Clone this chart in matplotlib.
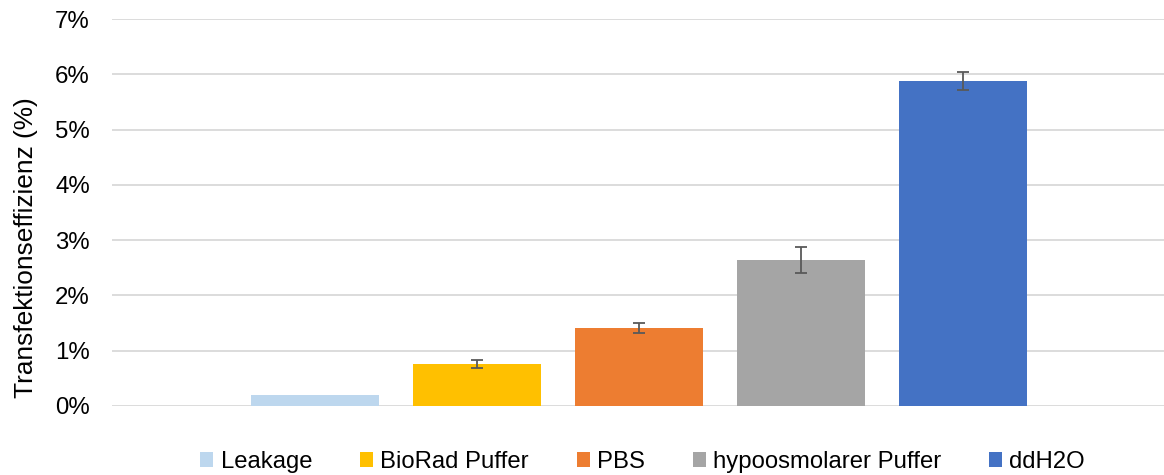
import numpy as np
import matplotlib
matplotlib.use("Agg")
import matplotlib.pyplot as plt
from matplotlib.patches import Patch
from matplotlib.ticker import PercentFormatter

plt.rcParams['font.family'] = ['Liberation Sans', 'DejaVu Sans']

# Daten (Transfektionseffizienz in %)
labels = ['Leakage', 'BioRad Puffer', 'PBS', 'hypoosmolarer Puffer', 'ddH2O']
values = [0.20, 0.76, 1.41, 2.64, 5.88]
errors = [0.0, 0.07, 0.09, 0.24, 0.16]
colors = ['#bdd7ee', '#ffc000', '#ed7d31', '#a5a5a5', '#4472c4']

fig = plt.figure(figsize=(11.64, 4.75), dpi=100)
ax = fig.add_axes([0.0962, 0.1453, 0.9038, 0.8147])

x = np.arange(len(values))
ax.bar(x, values, width=0.79, color=colors, zorder=2)
for xi, v, e in zip(x, values, errors):
    if e > 0:
        ax.errorbar(xi, v, yerr=e, fmt='none', ecolor='#595959',
                    elinewidth=1.3, capsize=4, capthick=1.3, zorder=3)

ax.set_xlim(-1.253, 5.24)
ax.set_ylim(0, 7)
ax.set_yticks(np.arange(0, 8, 1))
ax.yaxis.set_major_formatter(PercentFormatter(decimals=0))
ax.set_xticks([])
ax.tick_params(axis='y', length=0, labelsize=17.3, colors='#000000', pad=16)
ax.grid(axis='y', color='#d9d9d9', linewidth=1.3, zorder=0)
for s in ax.spines.values():
    s.set_visible(False)

ax.set_ylabel('Transfektionseffizienz (%)', fontsize=18.9)
ax.yaxis.set_label_coords(-0.0703, 0.41)

handles = [Patch(facecolor=c, edgecolor='none') for c in colors]
fig.legend(handles, labels, loc='lower center', bbox_to_anchor=(0.552, -0.041),
           ncol=5, frameon=False, fontsize=17.2, handlelength=0.55,
           handleheight=0.55, handletextpad=0.3, columnspacing=2.0)

fig.savefig('out.png', dpi=100)
